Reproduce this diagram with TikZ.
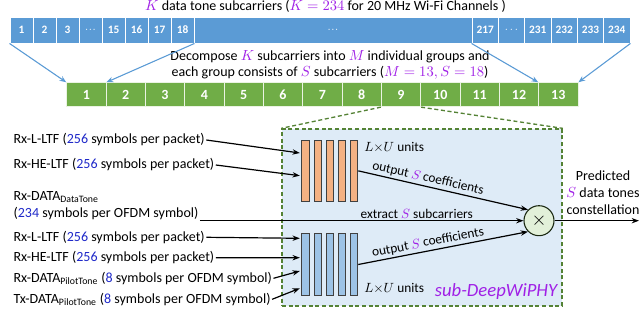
\documentclass[tikz,border=0pt]{standalone}
\usepackage{fontspec}
\setmainfont{Carlito}
\usetikzlibrary{arrows.meta,calc}
\definecolor{tonepurple}{RGB}{160,32,230}
\definecolor{numblue}{RGB}{30,40,200}
\definecolor{barblue}{HTML}{5B9BD5}
\definecolor{grpgreen}{HTML}{70AD47}
\definecolor{dashgreen}{HTML}{548235}
\definecolor{boxfill}{HTML}{DEEBF7}
\definecolor{orangebar}{HTML}{F4B183}
\definecolor{bluebar}{HTML}{9DC3E6}
\definecolor{circfill}{HTML}{E2F0D9}
\newcommand{\pmath}[1]{\textcolor{tonepurple}{$#1$}}
\newcommand{\bnum}[1]{\textcolor{numblue}{#1}}
\begin{document}
\begin{tikzpicture}[x=0.75pt,y=-0.75pt,
  txt/.style={font=\fontsize{10.5}{12.5}\selectfont, inner sep=1pt},
  intxt/.style={txt, anchor=west},
  topcell/.style={draw=white, line width=0.7pt, fill=barblue, text=white,
     font=\bfseries\fontsize{8.5}{9}\selectfont, inner sep=0pt, minimum height=19.5pt},
  grpcell/.style={draw=white!85!grpgreen, line width=0.7pt, fill=grpgreen, text=white,
     font=\bfseries\fontsize{10.5}{12}\selectfont, inner sep=0pt, minimum width=29.5pt, minimum height=18pt},
  bararrow/.style={-{Stealth[length=5pt,width=4pt]}, line width=0.8pt, draw=barblue, fill=barblue},
  arr/.style={-{Stealth[length=5.5pt,width=4pt]}, line width=0.9pt, black},
  dashline/.style={draw=dashgreen, line width=1pt, dash pattern=on 3pt off 2pt},
  obar/.style={draw=black!75, line width=0.6pt, fill=orangebar, minimum width=5.5pt, minimum height=46.3pt, inner sep=0pt},
  bbar/.style={draw=black!75, line width=0.6pt, fill=bluebar, minimum width=5.5pt, minimum height=46.8pt, inner sep=0pt},
  lbl/.style={font=\fontsize{10}{12}\selectfont, inner sep=1.5pt}
]
\useasboundingbox (0,0) rectangle (640,324);

% title
\node[txt] (title) at (325.5,6) {\pmath{K} data tone subcarriers (\pmath{K=234} for 20 MHz Wi-Fi Channels )};

% top bar
\foreach \n/\x/\w/\t in {t1/21.5/17.25/1, t2/44.5/17.25/2, t3/67.5/17.25/3, td/90.5/17.25/{$\cdot\!\cdot\!\cdot$},
   t15/113.5/17.25/15, t16/136.5/17.25/16, t17/159.5/17.25/17, t18/182.5/17.25/18,
   tbig/333/208.5/{$\cdot\!\cdot\!\cdot$},
   t217/485.2/19.75/217, tdd/511.5/19.75/{\mdseries$\cdots$}, t231/537.8/19.75/231,
   t232/564.2/19.75/232, t233/590.5/19.75/233, t234/616.8/19.75/234}
  \node[topcell, minimum width=\w pt] (\n) at (\x,30) {\t};

% group text
\node[txt, align=center] (decomp) at (330,65)
  {Decompose \pmath{K} subcarriers into \pmath{M} individual groups and\\
   each group consists of \pmath{S} subcarriers (\pmath{M=13, S=18})};

% green groups
\foreach \i in {1,...,13}
  \node[grpcell] (g\i) at ({66.7+39.33*(\i-0.5)},94.7) {\i};

% blue connectors
\draw[bararrow] (t1.south west) -- (g1.north west);
\draw[bararrow] (t18.south east) -- (g1.north east);
\draw[bararrow] (t217.south west) -- (g13.north west);
\draw[bararrow] (t234.south east) -- (g13.north east);

% sub-DeepWiPHY box
\node[dashline, fill=boxfill, minimum width=210pt, minimum height=132.75pt, inner sep=0pt] (box) at (422,217.5) {};
\draw[dashline] (g9.south west) -- (box.north west);
\draw[dashline] (g9.south east) -- (box.north east);

% bars
\foreach \i/\x in {1/305.4, 2/317.6, 3/329.8, 4/342, 5/354.2} {
  \node[obar] (o\i) at (\x,170.85) {};
  \node[bbar] (b\i) at (\x,264.5) {};
}
\node[lbl, anchor=west] (lu1) at (362,147) {$L{\times}U$ units};
\node[lbl, anchor=west] (lu2) at (362,288) {$L{\times}U$ units};
\node[font=\itshape\fontsize{14}{16}\selectfont, text=tonepurple, inner sep=0pt] (sub) at (496,292) {sub-DeepWiPHY};

% multiplier
\node[circle, draw=black!70!dashgreen, line width=0.8pt, fill=circfill, minimum size=22.5pt, inner sep=0pt,
      font=\fontsize{14}{14}\selectfont] (mul) at (539,220.7) {$\times$};
\coordinate (out) at (639,220.7);
\draw[arr] (mul.east) -- (out);
\node[txt, align=center] (pred) at (603,192.7) {Predicted\\\pmath{S} data tones\\constellation};

% inputs
\node[intxt] (n1) at (12,140) {Rx-L-LTF (\bnum{256} symbols per packet)};
\node[intxt] (n2) at (12,165) {Rx-HE-LTF (\bnum{256} symbols per packet)};
\node[intxt] (n3a) at (12,196.7) {Rx-DATA\textsubscript{DataTone}};
\node[intxt] (n3b) at (12,213.3) {(\bnum{234} symbols per OFDM symbol)};
\node[intxt] (n4) at (12,237.3) {Rx-L-LTF (\bnum{256} symbols per packet)};
\node[intxt] (n5) at (12,257.7) {Rx-HE-LTF (\bnum{256} symbols per packet)};
\node[intxt] (n6) at (12,278.3) {Rx-DATA\textsubscript{PilotTone} (\bnum{8} symbols per OFDM symbol)};
\node[intxt] (n7) at (12,299.3) {Tx-DATA\textsubscript{PilotTone} (\bnum{8} symbols per OFDM symbol)};

\path (o1.west) ++(-1.5,-17.85) coordinate (e1);
\path (o1.west) ++(-1.5,4.85) coordinate (e2);
\path (b1.west) ++(-1.5,-26.2) coordinate (e4);
\path (b1.west) ++(-1.5,-6.8) coordinate (e5);
\path (b1.west) ++(-1.5,6.5) coordinate (e6);
\path (b1.west) ++(-1.5,23.8) coordinate (e7);

\draw[arr] (n1.east) -- (e1);
\draw[arr] (n2.east) -- (e2);
\draw[arr] (n4.east) -- (e4);
\draw[arr] (n5.east) -- (e5);
\draw[arr] (n6.east) -- (e6);
\draw[arr] (n7.east) -- (e7);

\draw[arr] (o5.east) -- node[lbl, pos=0.4, above, sloped] {output \pmath{S} coefficients} (mul.north west);
\draw[arr] (b5.east) -- node[lbl, pos=0.42, above, sloped] {output \pmath{S} coefficients} (mul.south west);
\draw[arr] (n3b.east |- mul.west) -- node[lbl, pos=0.67, above] {extract \pmath{S} subcarriers} (mul.west);
\end{tikzpicture}
\end{document}
